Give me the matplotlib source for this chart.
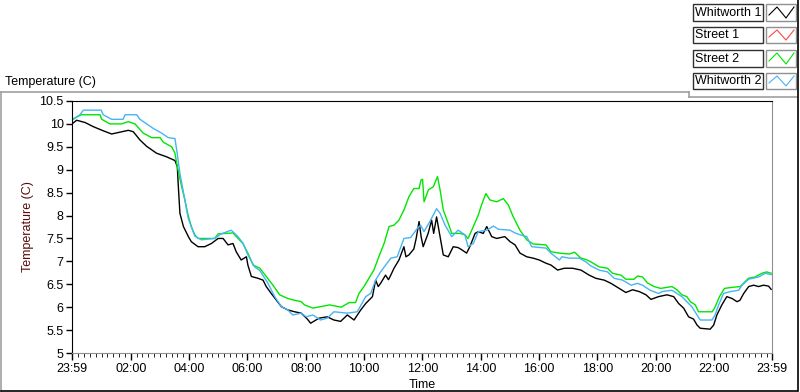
import numpy as np
import matplotlib
matplotlib.use("Agg")
import matplotlib.pyplot as plt
from matplotlib.patches import Rectangle
from matplotlib.lines import Line2D

plt.rcParams['font.family'] = ['Liberation Sans', 'DejaVu Sans']

# temps en heures depuis 23:59
t_w1 = [0.0, 0.16, 0.45, 0.73, 1.07, 1.36, 1.65, 1.93, 2.10, 2.33, 2.56, 2.90, 3.25, 3.53,
        3.61, 3.64, 3.70, 3.82, 3.99, 4.09, 4.32, 4.55, 4.78, 5.01, 5.18, 5.35, 5.52, 5.63,
        5.80, 5.98, 6.03, 6.15, 6.38, 6.55, 6.66, 6.83, 7.00, 7.18, 7.40, 7.63, 7.86, 8.07,
        8.18, 8.47, 8.75, 8.98, 9.21, 9.44, 9.67, 9.90, 10.07, 10.30, 10.41, 10.50, 10.58,
        10.75, 10.85, 10.93, 11.04, 11.21, 11.38, 11.45, 11.55, 11.72, 11.80, 11.90, 11.97,
        12.04, 12.21, 12.33, 12.40, 12.50, 12.62, 12.73, 12.90, 13.07, 13.24, 13.37, 13.53,
        13.64, 13.82, 13.93, 14.10, 14.22, 14.39, 14.56, 14.84, 15.02, 15.19, 15.36, 15.59,
        15.81, 16.02, 16.25, 16.42, 16.65, 16.88, 17.16, 17.45, 17.73, 17.96, 18.25, 18.48,
        18.76, 18.99, 19.22, 19.45, 19.68, 19.85, 20.11, 20.40, 20.63, 20.80, 20.97, 21.14,
        21.31, 21.43, 21.54, 21.88, 22.00, 22.11, 22.28, 22.45, 22.63, 22.80, 22.90, 23.03,
        23.20, 23.37, 23.54, 23.71, 23.88, 23.97]
whitworth1 = [10.0, 10.08, 10.03, 9.94, 9.85, 9.78, 9.82, 9.86, 9.83, 9.65, 9.51, 9.36, 9.28, 9.20,
              9.07, 8.70, 8.05, 7.76, 7.54, 7.43, 7.32, 7.32, 7.39, 7.50, 7.50, 7.36, 7.39, 7.21,
              7.03, 7.10, 6.92, 6.67, 6.63, 6.59, 6.45, 6.30, 6.16, 6.01, 5.94, 5.90, 5.87, 5.74,
              5.65, 5.76, 5.79, 5.72, 5.69, 5.83, 5.72, 5.94, 6.08, 6.23, 6.59, 6.45, 6.52,
              6.70, 6.60, 6.70, 6.85, 7.03, 7.32, 7.10, 7.14, 7.27, 7.50, 7.87, 7.54,
              7.32, 7.61, 7.90, 7.61, 7.97, 7.54, 7.14, 7.10, 7.32, 7.30, 7.25, 7.18,
              7.32, 7.61, 7.65, 7.61, 7.76, 7.54, 7.50, 7.54, 7.43, 7.36, 7.18, 7.10,
              7.07, 7.03, 6.96, 6.92, 6.81, 6.85, 6.85, 6.81, 6.70, 6.63, 6.59, 6.52,
              6.41, 6.32, 6.38, 6.34, 6.27, 6.17, 6.23, 6.27, 6.23, 6.08, 5.98, 5.79,
              5.74, 5.61, 5.54, 5.52, 5.61, 5.83, 6.05, 6.23, 6.19, 6.12, 6.15, 6.30,
              6.45, 6.48, 6.45, 6.48, 6.46, 6.39]

t_s1 = []
street1 = []

t_s2 = [0.0, 0.32, 0.96, 1.02, 1.30, 1.70, 1.93, 2.16, 2.44, 2.73, 3.02, 3.13, 3.42, 3.53,
        3.61, 3.76, 3.87, 3.98, 4.09, 4.21, 4.32, 4.89, 5.01, 5.52, 5.69, 5.86, 6.03, 6.21,
        6.44, 6.66, 6.89, 7.12, 7.40, 7.57, 7.86, 7.97, 8.26, 8.43, 8.83, 9.23, 9.50, 9.72,
        9.84, 10.01, 10.18, 10.35, 10.52, 10.70, 10.87, 11.04, 11.21, 11.38, 11.55, 11.72,
        11.90, 11.97, 12.02, 12.07, 12.22, 12.39, 12.53, 12.62, 12.73, 12.90, 13.02, 13.30,
        13.47, 13.58, 13.76, 13.93, 14.04, 14.19, 14.33, 14.56, 14.79, 14.96, 15.13, 15.36,
        15.59, 15.81, 16.02, 16.25, 16.42, 16.71, 17.05, 17.23, 17.45, 17.62, 17.79, 18.07,
        18.36, 18.53, 18.82, 18.99, 19.27, 19.39, 19.56, 19.73, 19.96, 20.18, 20.57, 20.74,
        20.91, 21.08, 21.20, 21.37, 21.48, 21.95, 22.03, 22.20, 22.37, 22.60, 22.91, 23.02,
        23.19, 23.42, 23.65, 23.82, 23.97]
street2 = [10.1, 10.2, 10.2, 10.1, 10.0, 10.0, 10.05, 10.0, 9.8, 9.7, 9.7, 9.6, 9.5, 9.36,
           9.07, 8.63, 8.34, 8.01, 7.76, 7.58, 7.50, 7.50, 7.60, 7.62, 7.50, 7.39, 7.18, 6.92,
           6.85, 6.67, 6.48, 6.27, 6.19, 6.16, 6.12, 6.05, 5.98, 6.0, 6.05, 6.0, 6.1, 6.1,
           6.3, 6.45, 6.63, 6.81, 7.10, 7.39, 7.76, 7.79, 7.90, 8.12, 8.41, 8.59,
           8.59, 8.78, 8.79, 8.30, 8.56, 8.63, 8.85, 8.56, 8.12, 7.83, 7.61, 7.61,
           7.58, 7.50, 7.76, 8.01, 8.23, 8.48, 8.34, 8.30, 8.37, 8.23, 7.97, 7.68,
           7.47, 7.38, 7.37, 7.36, 7.21, 7.18, 7.16, 7.20, 7.07, 7.04, 6.99, 6.88,
           6.85, 6.74, 6.70, 6.61, 6.61, 6.68, 6.66, 6.53, 6.45, 6.41, 6.45, 6.38,
           6.27, 6.23, 6.12, 6.05, 5.90, 5.90, 5.98, 6.23, 6.41, 6.43, 6.45, 6.52,
           6.63, 6.66, 6.74, 6.77, 6.74]

t_w2 = [0.05, 0.27, 0.39, 1.00, 1.07, 1.36, 1.75, 1.82, 2.22, 2.33, 2.56, 2.79, 3.07, 3.30,
        3.53, 3.59, 3.70, 3.87, 3.98, 4.21, 4.43, 4.89, 5.12, 5.46, 5.69, 5.86, 6.03, 6.26,
        6.44, 6.72, 6.95, 7.18, 7.40, 7.57, 7.86, 8.03, 8.26, 8.52, 8.75, 8.98, 9.44, 9.78,
        10.07, 10.24, 10.41, 10.58, 10.93, 11.15, 11.38, 11.61, 11.84, 11.95, 12.07, 12.27,
        12.50, 12.62, 12.79, 13.02, 13.24, 13.47, 13.58, 13.76, 13.93, 14.22, 14.45, 14.62,
        15.02, 15.19, 15.36, 15.59, 15.76, 16.25, 16.42, 16.71, 16.80, 17.05, 17.39, 17.62,
        17.79, 18.07, 18.36, 18.59, 18.88, 19.17, 19.39, 19.56, 19.82, 20.11, 20.23, 20.57,
        20.74, 20.91, 21.08, 21.25, 21.43, 21.54, 21.94, 22.05, 22.17, 22.34, 22.57, 22.86,
        22.97, 23.20, 23.54, 23.77, 23.97]
whitworth2 = [10.1, 10.2, 10.3, 10.3, 10.2, 10.1, 10.1, 10.2, 10.2, 10.1, 10.0, 9.9, 9.8, 9.7,
              9.68, 9.43, 8.92, 8.34, 7.95, 7.55, 7.47, 7.50, 7.60, 7.68, 7.54, 7.40, 7.14, 6.88,
              6.80, 6.52, 6.23, 6.01, 5.94, 5.83, 5.87, 5.79, 5.83, 5.72, 5.76, 5.90, 5.87, 5.90,
              6.23, 6.30, 6.59, 6.77, 7.07, 7.10, 7.50, 7.52, 7.72, 7.79, 7.65, 7.87,
              8.15, 8.05, 7.79, 7.54, 7.68, 7.58, 7.32, 7.39, 7.65, 7.68, 7.77, 7.70,
              7.68, 7.62, 7.58, 7.54, 7.32, 7.29, 7.18, 7.03, 7.10, 7.07, 7.07, 6.99,
              6.90, 6.81, 6.77, 6.63, 6.59, 6.48, 6.52, 6.48, 6.37, 6.30, 6.34, 6.37,
              6.30, 6.23, 6.12, 6.01, 5.83, 5.72, 5.72, 5.83, 6.05, 6.30, 6.34, 6.37,
              6.48, 6.61, 6.66, 6.74, 6.71]

x_labels = ['23:59', '02:00', '04:00', '06:00', '08:00', '10:00', '12:00',
            '14:00', '16:00', '18:00', '20:00', '22:00', '23:59']
x_ticks = [0.0] + [2 * k + 1 / 60 for k in range(1, 12)] + [24.0]

series_names = ['Whitworth 1', 'Street 1', 'Street 2', 'Whitworth 2']
series_colors = ['#000000', '#ff4646', '#00e600', '#46b4f5']

FS = 9

# ---------------------------------------------------------------------
fig = plt.figure(figsize=(8, 3.92), dpi=100)

# cadre du graphe
def fig_line(x0, y0, x1, y1, color):
    fig.add_artist(Line2D([x0 / 800, x1 / 800], [1 - y0 / 392, 1 - y1 / 392],
                          color=color, lw=1.2, transform=fig.transFigure))

fig_line(1, 92, 689, 92, '#a0a0a0')
fig_line(689, 92, 689, 97, '#a0a0a0')
fig_line(689, 97, 797, 97, '#a0a0a0')
fig_line(1, 92, 1, 391, '#a0a0a0')
fig_line(1, 391, 797, 391, '#000000')
fig_line(798, 0, 798, 391, '#000000')

fig.text(5 / 800, 1 - 82 / 392, 'Temperature (C)', fontsize=FS, va='center', ha='left')

ax = fig.add_axes([72 / 800, 1 - 353 / 392, 700 / 800, 252 / 392])
ax.plot(t_w1, whitworth1, color=series_colors[0], lw=1.0)
ax.plot(t_s1, street1, color=series_colors[1], lw=1.0)
ax.plot(t_s2, street2, color=series_colors[2], lw=1.0)
ax.plot(t_w2, whitworth2, color=series_colors[3], lw=1.0)

ax.set_xlim(0, 24)
ax.set_ylim(5, 10.5)
ax.set_xticks(x_ticks)
ax.set_xticklabels(x_labels)
minor = [1 / 60 + 0.2 * k for k in range(1, 120) if (k % 10) != 0]
ax.set_xticks(minor, minor=True)
yt = np.arange(5, 10.51, 0.5)
ax.set_yticks(yt)
ax.set_yticklabels(['%g' % v for v in yt])
ax.tick_params(axis='both', direction='out', labelsize=FS, width=1, pad=2)
ax.tick_params(axis='x', which='major', length=5)
ax.tick_params(axis='x', which='minor', length=3)
ax.tick_params(axis='y', length=4)
for s in ['left', 'top']:
    ax.spines[s].set_color('#000000')
for s in ['right', 'bottom']:
    ax.spines[s].set_color('#909090')
ax.set_xlabel('Time', fontsize=FS, labelpad=3)
ax.set_ylabel('Temperature (C)', fontsize=FS, color='#5a0a0a', labelpad=4)

# légende façon LabVIEW
box_y = [(4, 21), (27, 43), (50, 67), (73, 89)]
for name, col, (ya, yb) in zip(series_names, series_colors, box_y):
    fig.add_artist(Rectangle((693 / 800, 1 - yb / 392), 70 / 800, (yb - ya) / 392,
                             transform=fig.transFigure, fill=False, ec='#303030', lw=1))
    fig.text(695 / 800, 1 - (ya + yb) / 2 / 392, name, fontsize=FS, va='center', ha='left')
    fig.add_artist(Rectangle((766 / 800, 1 - yb / 392), 30 / 800, (yb - ya) / 392,
                             transform=fig.transFigure, fill=False, ec='#909090', lw=1))
    zx = [769, 777, 786, 794]
    zy = [yb - 6, ya + 3, yb - 3, ya + 3]
    fig.add_artist(Line2D([v / 800 for v in zx], [1 - v / 392 for v in zy],
                          color=col, lw=0.8, transform=fig.transFigure))

fig.savefig('out.png', dpi=100)
